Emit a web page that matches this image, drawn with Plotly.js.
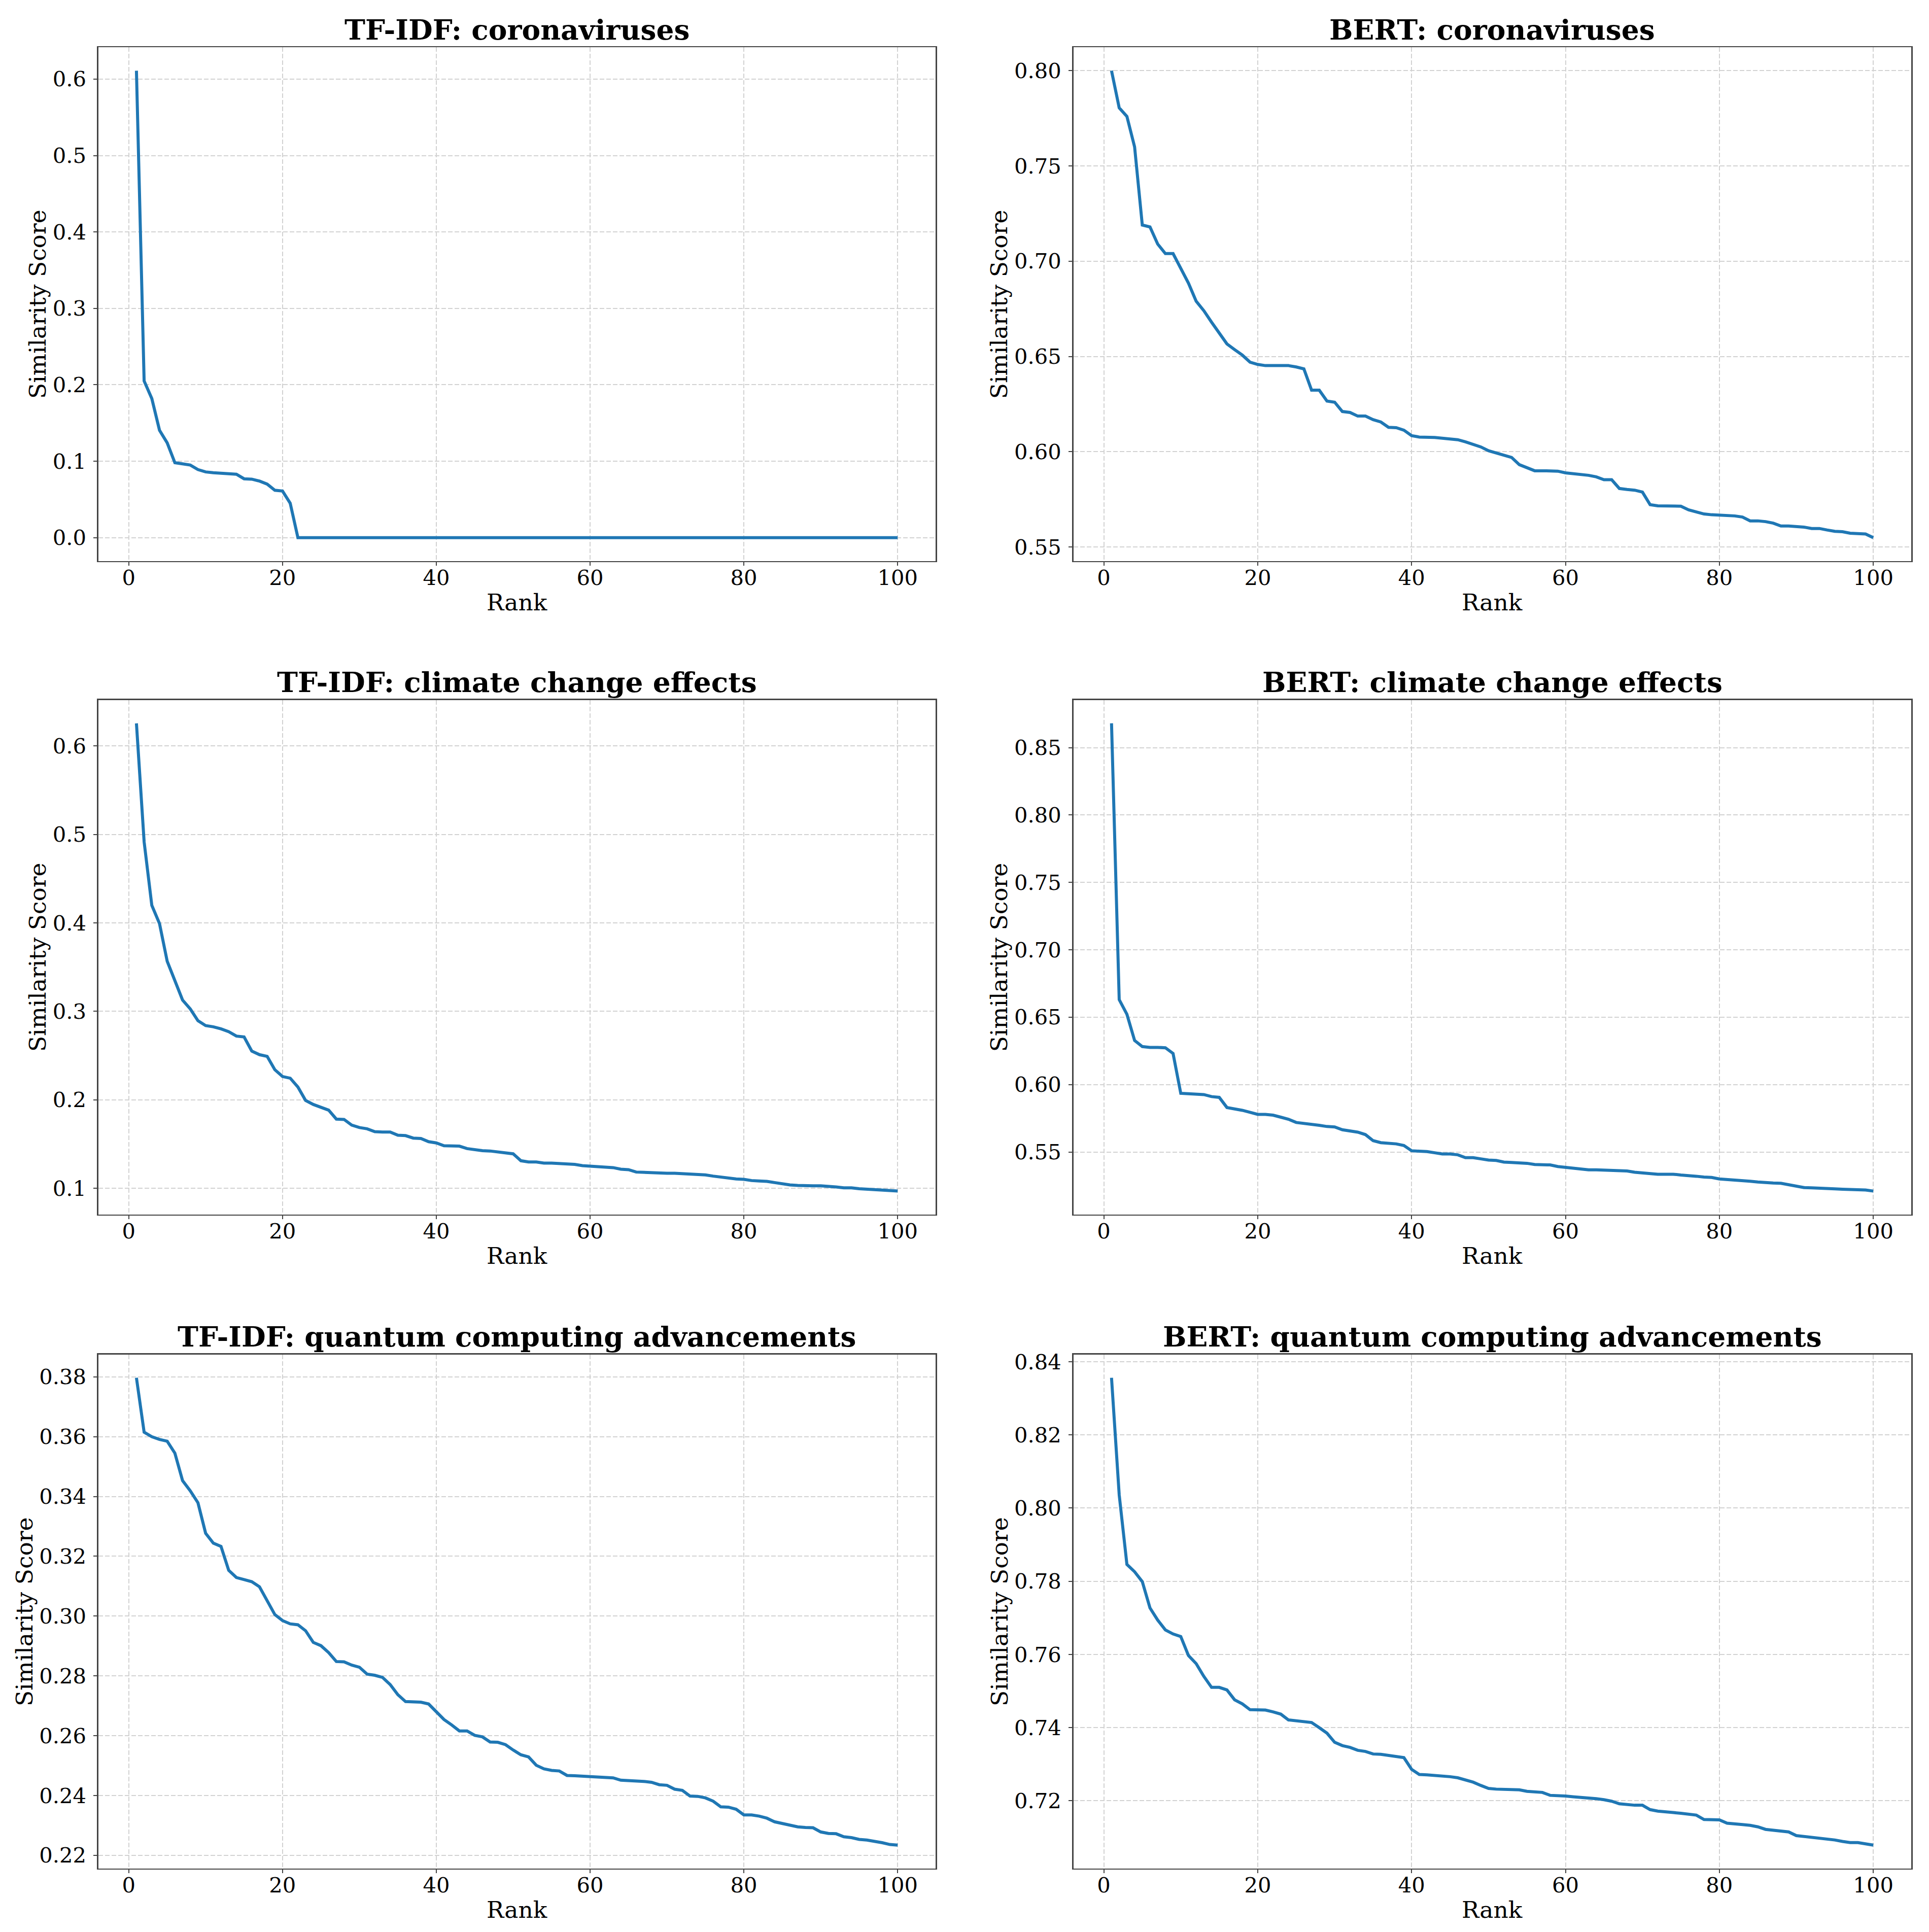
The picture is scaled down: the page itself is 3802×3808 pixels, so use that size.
<!DOCTYPE html>
<html>
<head>
<meta charset="utf-8">
<script src="https://cdn.plot.ly/plotly-3.0.1.min.js"></script>
<style>html,body{margin:0;padding:0;background:#fff;}</style>
</head>
<body>
<div id="chart" style="width:3802px;height:3808px;"></div>
<script>
// ---- data ----
const ranks = Array.from({length: 100}, (_, i) => i + 1);

const panelTitles = [
  "TF-IDF: coronaviruses", "BERT: coronaviruses",
  "TF-IDF: climate change effects", "BERT: climate change effects",
  "TF-IDF: quantum computing advancements", "BERT: quantum computing advancements"
];

const tfidfCorona = [
  0.611, 0.205, 0.182, 0.1405, 0.124, 0.098, 0.0965, 0.095, 0.089, 0.086,
  0.085, 0.0845, 0.084, 0.083, 0.077, 0.0765, 0.074, 0.070, 0.062, 0.061,
  0.045, 0.0, 0.0, 0.0, 0.0, 0.0, 0.0, 0.0, 0.0, 0.0,
  0.0, 0.0, 0.0, 0.0, 0.0, 0.0, 0.0, 0.0, 0.0, 0.0,
  0.0, 0.0, 0.0, 0.0, 0.0, 0.0, 0.0, 0.0, 0.0, 0.0,
  0.0, 0.0, 0.0, 0.0, 0.0, 0.0, 0.0, 0.0, 0.0, 0.0,
  0.0, 0.0, 0.0, 0.0, 0.0, 0.0, 0.0, 0.0, 0.0, 0.0,
  0.0, 0.0, 0.0, 0.0, 0.0, 0.0, 0.0, 0.0, 0.0, 0.0,
  0.0, 0.0, 0.0, 0.0, 0.0, 0.0, 0.0, 0.0, 0.0, 0.0,
  0.0, 0.0, 0.0, 0.0, 0.0, 0.0, 0.0, 0.0, 0.0, 0.0
];

const bertCorona = [
  0.800, 0.7805, 0.776, 0.760, 0.719, 0.718, 0.709, 0.704, 0.704, 0.696,
  0.6885, 0.679, 0.674, 0.668, 0.662, 0.6566, 0.6536, 0.6507, 0.647, 0.6458,
  0.6452, 0.6452, 0.6452, 0.6452, 0.6445, 0.6435, 0.6323, 0.6323, 0.6266, 0.626,
  0.6211, 0.6206, 0.6187, 0.6187, 0.6168, 0.6156, 0.6128, 0.6126, 0.6113, 0.6084,
  0.6077, 0.6077, 0.6075, 0.6071, 0.6069, 0.6063, 0.6052, 0.6037, 0.6025, 0.6005,
  0.5993, 0.5978, 0.597, 0.5932, 0.5917, 0.590, 0.590, 0.5899, 0.5898, 0.5889,
  0.5885, 0.5881, 0.5876, 0.5868, 0.5853, 0.5853, 0.5807, 0.5802, 0.5798, 0.5788,
  0.5722, 0.5716, 0.5714, 0.5714, 0.5714, 0.5695, 0.5684, 0.5673, 0.5669, 0.5667,
  0.5667, 0.5663, 0.5657, 0.5637, 0.5637, 0.5633, 0.5625, 0.561, 0.561, 0.5608,
  0.5604, 0.5597, 0.5597, 0.5589, 0.5582, 0.558, 0.5572, 0.557, 0.5568, 0.5549
];

const tfidfClimate = [
  0.6256, 0.4916, 0.4198, 0.3992, 0.3566, 0.3347, 0.3127, 0.3027, 0.2894, 0.2839,
  0.2825, 0.2802, 0.277, 0.272, 0.2711, 0.2551, 0.251, 0.2491, 0.234, 0.2263,
  0.2244, 0.2144, 0.1993, 0.1947, 0.1919, 0.1883, 0.1782, 0.1778, 0.1714, 0.1686,
  0.1672, 0.164, 0.1636, 0.1636, 0.1599, 0.1595, 0.1567, 0.1563, 0.1526, 0.1512,
  0.148, 0.148, 0.1476, 0.1448, 0.1435, 0.1425, 0.1421, 0.1412, 0.1403, 0.1389,
  0.1311, 0.1297, 0.1297, 0.1284, 0.1284, 0.1279, 0.1279, 0.127, 0.1256, 0.1252,
  0.1247, 0.1238, 0.1233, 0.1215, 0.121, 0.1183, 0.1178, 0.1178, 0.1174, 0.1169,
  0.1169, 0.1165, 0.116, 0.1156, 0.1151, 0.1137, 0.1124, 0.111, 0.1105, 0.1101,
  0.1087, 0.1082, 0.1078, 0.1064, 0.105, 0.1037, 0.1032, 0.1027, 0.1027, 0.1027,
  0.1023, 0.1014, 0.1005, 0.1005, 0.0995, 0.0991, 0.0982, 0.0977, 0.0973, 0.0968
];

const bertClimate = [
  0.868, 0.663, 0.6522, 0.6327, 0.6282, 0.6276, 0.6276, 0.6273, 0.6231, 0.5935,
  0.5932, 0.5929, 0.5926, 0.5911, 0.5905, 0.583, 0.5821, 0.5809, 0.5794, 0.5779,
  0.5779, 0.5773, 0.5758, 0.5743, 0.5719, 0.5713, 0.5707, 0.5698, 0.5689, 0.5686,
  0.5665, 0.5656, 0.5647, 0.5629, 0.5584, 0.5569, 0.5563, 0.556, 0.5548, 0.5509,
  0.5506, 0.5503, 0.5494, 0.5485, 0.5485, 0.5479, 0.5458, 0.5458, 0.5449, 0.544,
  0.5437, 0.5425, 0.5422, 0.5419, 0.5416, 0.5407, 0.5407, 0.5404, 0.5392, 0.5386,
  0.538, 0.5371, 0.5368, 0.5368, 0.5365, 0.5362, 0.5362, 0.5359, 0.535, 0.5344,
  0.5341, 0.5335, 0.5335, 0.5335, 0.5329, 0.5326, 0.532, 0.5314, 0.5311, 0.5300,
  0.5297, 0.5293, 0.5288, 0.5283, 0.5277, 0.5272, 0.5270, 0.5268, 0.5258, 0.5248,
  0.5236, 0.5234, 0.5233, 0.5232, 0.5226, 0.5224, 0.5223, 0.5222, 0.5218, 0.5210
];

const tfidfQuantum = [
  0.3797, 0.3615, 0.360, 0.3591, 0.3585, 0.3545, 0.3453, 0.3419, 0.3379, 0.3277,
  0.3244, 0.3233, 0.3153, 0.3129, 0.3122, 0.3115, 0.3098, 0.3051, 0.3005, 0.2985,
  0.2974, 0.2971, 0.2951, 0.2912, 0.2901, 0.2878, 0.2848, 0.2847, 0.2836, 0.2829,
  0.2806, 0.2802, 0.2795, 0.2771, 0.2737, 0.2714, 0.2713, 0.2712, 0.2706, 0.2679,
  0.2654, 0.2636, 0.2616, 0.2616, 0.2601, 0.2596, 0.2579, 0.2578, 0.257, 0.2552,
  0.2536, 0.2529, 0.2501, 0.2489, 0.2484, 0.2482, 0.2467, 0.2466, 0.2465, 0.2462,
  0.2461, 0.2461, 0.2459, 0.2451, 0.245, 0.2448, 0.2447, 0.2444, 0.2436, 0.2434,
  0.2421, 0.2417, 0.2398, 0.2397, 0.2392, 0.2381, 0.2362, 0.2361, 0.2354, 0.2335,
  0.2335, 0.2331, 0.2324, 0.2312, 0.2307, 0.2301, 0.2295, 0.2293, 0.2292, 0.2278,
  0.2273, 0.2272, 0.2262, 0.2259, 0.2253, 0.2251, 0.2247, 0.2242, 0.2236, 0.2234
];

const bertQuantum = [
  0.8356, 0.8036, 0.7846, 0.7826, 0.7799, 0.7727, 0.7694, 0.7667, 0.7656, 0.7649,
  0.7597, 0.7575, 0.754, 0.751, 0.751, 0.7503, 0.7476, 0.7465, 0.7449, 0.7448,
  0.7448, 0.7443, 0.7437, 0.7421, 0.7418, 0.7417, 0.7414, 0.740, 0.7385, 0.736,
  0.7351, 0.7346, 0.7338, 0.7335, 0.7328, 0.7327, 0.7324, 0.732, 0.7318, 0.7286,
  0.7272, 0.7271, 0.727, 0.7267, 0.7266, 0.7263, 0.7257, 0.7251, 0.7242, 0.7234,
  0.7232, 0.7231, 0.7231, 0.723, 0.7226, 0.7224, 0.7223, 0.7215, 0.7215, 0.7213,
  0.7211, 0.721, 0.7209, 0.7206, 0.7203, 0.7199, 0.7192, 0.7189, 0.7188, 0.7188,
  0.7176, 0.7172, 0.7171, 0.7168, 0.7166, 0.7164, 0.7161, 0.7149, 0.7148, 0.7148,
  0.7139, 0.7136, 0.7135, 0.7133, 0.7129, 0.7122, 0.7119, 0.7117, 0.7115, 0.7105,
  0.7103, 0.7101, 0.7099, 0.7096, 0.7093, 0.7089, 0.7086, 0.7086, 0.7082, 0.7079
];

const seriesList = [tfidfCorona, bertCorona, tfidfClimate, bertClimate, tfidfQuantum, bertQuantum];
const yTickSteps = [0.1, 0.05, 0.1, 0.05, 0.02, 0.02];
const yTickFormats = [".1f", ".2f", ".1f", ".2f", ".2f", ".2f"];
const xTickStep = 20;
const xLabel = "Rank";
const yLabel = "Similarity Score";

// ---- layout geometry (paper fractions) ----
const W = 3802, H = 3808;
const colDomains = [[0.05100, 0.48506], [0.55647, 0.99085]];
const rowDomains = [[0.70964, 0.97550], [0.37140, 0.63771], [0.03288, 0.29895]];

const FONT = "DejaVu Serif";
const axisColor = "#444444";
const gridColor = "#d2d2d2";

const traces = [];
const layout = {
  width: W, height: H,
  margin: {l: 0, r: 0, t: 0, b: 0, pad: 0},
  paper_bgcolor: "#ffffff",
  plot_bgcolor: "#ffffff",
  showlegend: false,
  annotations: []
};

function paddedRange(arr) {
  const mn = Math.min(...arr), mx = Math.max(...arr);
  const m = (mx - mn) * 0.05;
  return [mn - m, mx + m];
}

seriesList.forEach((vals, i) => {
  const n = i + 1;
  const xa = n === 1 ? "xaxis" : "xaxis" + n;
  const ya = n === 1 ? "yaxis" : "yaxis" + n;
  const col = i % 2, row = Math.floor(i / 2);
  traces.push({
    x: ranks, y: vals, type: "scatter", mode: "lines",
    xaxis: "x" + (n === 1 ? "" : n), yaxis: "y" + (n === 1 ? "" : n),
    line: {color: "#1f77b4", width: 6},
    hoverinfo: "skip"
  });
  const common = {
    ticks: "outside", ticklen: 7, tickwidth: 2, tickcolor: axisColor,
    showline: true, linecolor: axisColor, linewidth: 2.5, mirror: true,
    showgrid: true, gridcolor: gridColor, gridwidth: 2, griddash: "9px,4px",
    zeroline: false,
    tickfont: {family: FONT, size: 41.7, color: "#000000"}
  };
  const xr = paddedRange(ranks);
  layout[xa] = Object.assign({}, common, {
    domain: colDomains[col], anchor: "y" + (n === 1 ? "" : n),
    range: xr, tick0: 0, dtick: xTickStep, ticklabelstandoff: -12
  });
  layout[ya] = Object.assign({}, common, {
    domain: rowDomains[row], anchor: "x" + (n === 1 ? "" : n),
    range: paddedRange(vals), tick0: 0, dtick: yTickSteps[i],
    tickformat: yTickFormats[i], ticklabelstandoff: 6
  });
  const xc = (colDomains[col][0] + colDomains[col][1]) / 2;
  const yc = (rowDomains[row][0] + rowDomains[row][1]) / 2;
  // subplot title
  layout.annotations.push({
    text: panelTitles[i], xref: "paper", yref: "paper",
    x: xc, y: rowDomains[row][1], xanchor: "center", yanchor: "middle",
    yshift: 35, showarrow: false,
    font: {family: FONT, size: 55, color: "#000000", weight: "bold"}
  });
  // x label
  layout.annotations.push({
    text: xLabel, xref: "paper", yref: "paper",
    x: xc, y: rowDomains[row][0], xanchor: "center", yanchor: "middle",
    yshift: -82, showarrow: false,
    font: {family: FONT, size: 45.5, color: "#000000"}
  });
  // y label: offset depends on tick label width
  const labelChars = yTickFormats[i] === ".1f" ? 3 : 4;
  layout.annotations.push({
    text: yLabel, xref: "paper", yref: "paper", textangle: -90,
    x: colDomains[col][0], y: yc, xanchor: "center", yanchor: "middle",
    xshift: -(40 + 26.5 * labelChars), showarrow: false,
    font: {family: FONT, size: 45.5, color: "#000000"}
  });
});

Plotly.newPlot("chart", traces, layout, {staticPlot: true, displayModeBar: false});
</script>
</body>
</html>
